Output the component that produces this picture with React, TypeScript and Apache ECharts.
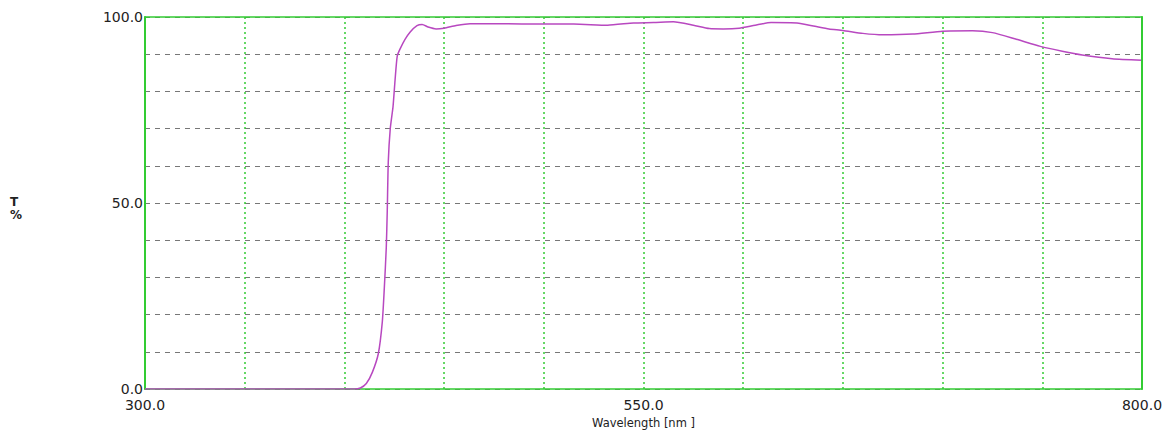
import React, { useEffect, useRef } from "react";
import * as echarts from "echarts";

const wavelengths = [
  300, 405, 408, 411, 414, 417, 419, 420, 421, 421.5, 422, 423, 424.4, 425.4, 426.5,
  428, 430.4, 433, 436.4, 439, 442, 446, 450, 456, 463, 480, 498, 515, 532, 545,
  555, 565, 575, 583, 590, 598, 606, 614, 627, 636, 643, 650, 660, 670, 685, 700,
  715, 725, 737, 749, 760, 770, 785, 800,
];
const transmittance = [
  0, 0, 0.3, 1.5, 4.5, 9.5, 18, 27, 38, 48, 61, 70, 76, 83, 89.5,
  91.5, 94, 96, 97.7, 98, 97.3, 96.8, 97, 97.7, 98.2, 98.2, 98.1, 98.1, 97.8, 98.4,
  98.5, 98.7, 97.8, 96.9, 96.8, 97.0, 97.8, 98.5, 98.4, 97.5, 96.8, 96.4, 95.6, 95.2, 95.4, 96.2,
  96.3, 95.8, 94, 92.1, 90.8, 89.8, 88.8, 88.4,
];
const xLabelValues = [300, 550, 800];
const yLabelValues = [0, 50, 100];

const GREEN = "#33cc33";
const TEXT = "#222";
const FONT = "DejaVu Sans";

export default function App() {
  const ref = useRef<HTMLDivElement>(null);
  useEffect(() => {
    document.body.style.margin = "0";
    const chart = echarts.init(ref.current!, null, { renderer: "svg" });
    const data = wavelengths.map((w, i) => [w, transmittance[i]]);
    chart.setOption({
      animation: false,
      backgroundColor: "#fff",
      grid: { left: 145, right: 34, top: 17, bottom: 38, show: false },
      xAxis: [
        {
          type: "value",
          min: 300,
          max: 800,
          interval: 50,
          z: 3,
          name: "Wavelength [nm ]",
          nameLocation: "middle",
          nameGap: 27,
          nameTextStyle: { color: TEXT, fontSize: 11.5, fontFamily: FONT },
          axisLine: { show: true, onZero: false, lineStyle: { color: GREEN, width: 1.5 } },
          axisTick: { show: false },
          axisLabel: {
            color: TEXT,
            fontSize: 14,
            fontFamily: FONT,
            margin: 9,
            showMinLabel: true,
            showMaxLabel: true,
            formatter: (v: number) => (xLabelValues.includes(v) ? v.toFixed(1) : ""),
          },
          splitLine: {
            show: true,
            lineStyle: { color: GREEN, width: 1.5, type: [2, 3] },
          },
        },
        {
          type: "value",
          position: "top",
          min: 300,
          max: 800,
          z: 5,
          axisLine: { show: true, onZero: false, lineStyle: { color: GREEN, width: 1.5 } },
          axisTick: { show: false },
          axisLabel: { show: false },
          splitLine: { show: false },
        },
      ],
      yAxis: [
        {
          type: "value",
          min: 0,
          max: 100,
          interval: 10,
          z: 1,
          axisLine: { show: true, onZero: false, lineStyle: { color: GREEN, width: 2 } },
          axisTick: { show: false },
          axisLabel: {
            color: TEXT,
            fontSize: 14,
            fontFamily: FONT,
            margin: 2,
            formatter: (v: number) => (yLabelValues.includes(v) ? v.toFixed(1) : ""),
          },
          splitLine: {
            show: true,
            lineStyle: { color: "#777", width: 1, type: [5, 5] },
          },
        },
        {
          type: "value",
          position: "right",
          min: 0,
          max: 100,
          z: 5,
          axisLine: { show: true, onZero: false, lineStyle: { color: GREEN, width: 2 } },
          axisTick: { show: false },
          axisLabel: { show: false },
          splitLine: { show: false },
        },
      ],
      graphic: [
        {
          type: "text",
          left: 10,
          top: 195,
          style: {
            text: "T\n%",
            fill: TEXT,
            fontSize: 12,
            fontWeight: "bold",
            fontFamily: FONT,
            align: "center",
            lineHeight: 13,
          },
        },
      ],
      series: [
        {
          type: "line",
          xAxisIndex: 0,
          yAxisIndex: 0,
          data,
          showSymbol: false,
          smooth: 0.2,
          z: 4,
          lineStyle: { color: "#b848c0", width: 1.5 },
        },
      ],
    });
    return () => chart.dispose();
  }, []);
  return <div ref={ref} style={{ width: 1176, height: 434 }} />;
}
